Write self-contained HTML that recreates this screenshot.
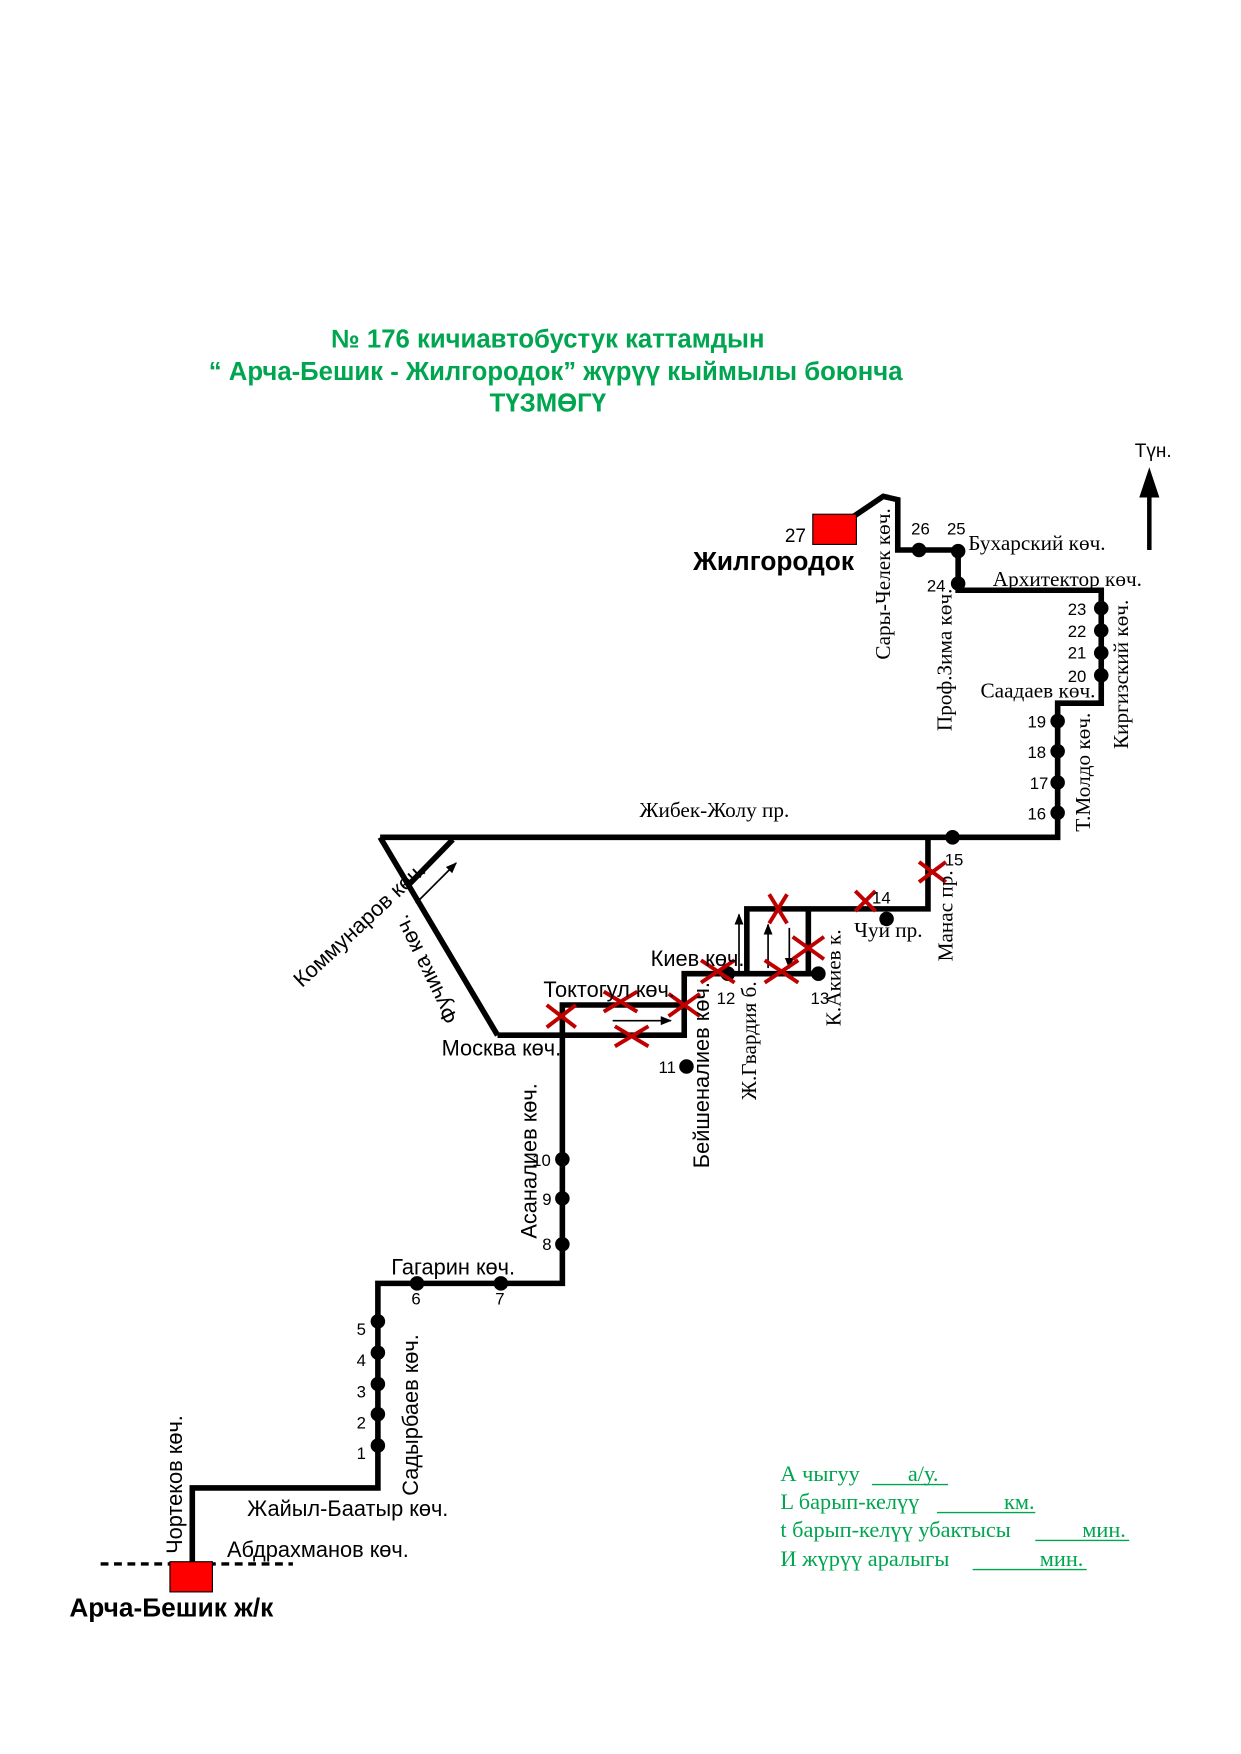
<!DOCTYPE html>
<html><head><meta charset="utf-8"><style>
html,body{margin:0;padding:0;background:#fff;}
svg{display:block;}
.s{font-family:"Liberation Sans",sans-serif;}
.r{font-family:"Liberation Serif",serif;}
</style></head><body>
<svg width="1241" height="1754" viewBox="0 0 1110 1569" preserveAspectRatio="none" xmlns="http://www.w3.org/2000/svg">
<defs>
<marker id="ah" markerWidth="10" markerHeight="10" refX="9" refY="5" orient="auto" markerUnits="userSpaceOnUse"><path d="M0,1 L10,5 L0,9 z" fill="#000"/></marker>
</defs>
<g class="s" font-weight="bold" fill="#00a550" font-size="23" text-anchor="middle">
<text x="490" y="311">№ 176  кичиавтобустук каттамдын</text>
<text x="497" y="340">“ Арча-Бешик - Жилгородок” жүрүү кыймылы боюнча</text>
<text x="490" y="368">ТҮЗМӨГҮ</text>
</g>
<line x1="1028" y1="492" x2="1028" y2="440" stroke="#000" stroke-width="4"/>
<path d="M1019,445 L1028,418 L1037,445 z" fill="#000"/>
<text class="s" x="1015" y="409" font-size="17">Түн.</text>
<line x1="90" y1="1399" x2="262" y2="1399" stroke="#000" stroke-width="3" stroke-dasharray="7,5"/>
<g fill="none" stroke="#000" stroke-width="5" stroke-linejoin="miter">
<polyline points="172,1398 172,1331 338,1331 338,1148 503,1148 503,899 612,899"/>
<polyline points="445,926 612,926 612,871 732,871"/>
<polyline points="668,871 668,813 830,813 830,749"/>
<line x1="723" y1="813" x2="723" y2="871"/>
<polyline points="340,749 946,749 946,629 985,629 985,528 857,528 857,492 803,492 803,447 790,444 762,463"/>
<polyline points="340,749 445,926"/>
<line x1="405" y1="751" x2="365" y2="792"/>
</g>
<g stroke="#000" stroke-width="1.5" fill="none">
<line x1="372" y1="808" x2="408" y2="772" marker-end="url(#ah)"/>
<line x1="548" y1="913" x2="600" y2="913" marker-end="url(#ah)"/>
<line x1="661" y1="870" x2="661" y2="818" marker-end="url(#ah)"/>
<line x1="687" y1="866" x2="687" y2="827" marker-end="url(#ah)"/>
<line x1="706" y1="830" x2="706" y2="866" marker-end="url(#ah)"/>
</g>
<rect x="152" y="1397" width="38" height="27" fill="#ff0000" stroke="#000" stroke-width="1"/>
<rect x="727" y="460" width="39" height="27" fill="#ff0000" stroke="#000" stroke-width="1"/>
<g fill="#000">
<circle cx="338" cy="1293" r="6.5"/><circle cx="338" cy="1265" r="6.5"/><circle cx="338" cy="1238" r="6.5"/><circle cx="338" cy="1210" r="6.5"/><circle cx="338" cy="1182" r="6.5"/>
<circle cx="373" cy="1148" r="6.5"/><circle cx="448" cy="1148" r="6.5"/>
<circle cx="503" cy="1113" r="6.5"/><circle cx="503" cy="1072" r="6.5"/><circle cx="503" cy="1037" r="6.5"/>
<circle cx="614" cy="954" r="6.5"/><circle cx="651" cy="871" r="6.5"/><circle cx="732" cy="871" r="6.5"/>
<circle cx="793" cy="822" r="6.5"/><circle cx="852" cy="749" r="6.5"/>
<circle cx="946" cy="727" r="6.5"/><circle cx="946" cy="700" r="6.5"/><circle cx="946" cy="672" r="6.5"/><circle cx="946" cy="645" r="6.5"/>
<circle cx="985" cy="604" r="6.5"/><circle cx="985" cy="584" r="6.5"/><circle cx="985" cy="564" r="6.5"/><circle cx="985" cy="544" r="6.5"/>
<circle cx="857" cy="522" r="6.5"/><circle cx="857" cy="493" r="6.5"/><circle cx="822" cy="492" r="6.5"/>
</g>
<g stroke="#c00000" stroke-width="3.5">
<path d="M489,899 l26,20 M515,899 l-26,20"/>
<path d="M540,887 l30,18 M570,887 l-30,18"/>
<path d="M550,918 l30,18 M580,918 l-30,18"/>
<path d="M598,889 l28,20 M626,889 l-28,20"/>
<path d="M627,859 l30,20 M657,859 l-30,20"/>
<path d="M684,859 l30,20 M714,859 l-30,20"/>
<path d="M709,838 l28,20 M737,838 l-28,20"/>
<path d="M688,800 l16,26 M704,800 l-16,26"/>
<path d="M765,797 l18,18 M783,797 l-18,18"/>
<path d="M822,771 l24,18 M846,771 l-24,18"/>
</g>
<g class="s" font-size="19.5" fill="#000">
<text x="62" y="1446" font-size="23.5" font-weight="bold">Арча-Бешик ж/к</text>
<text x="620" y="510" font-size="23.5" font-weight="bold">Жилгородок</text>
<text x="702" y="485" font-size="17">27</text>
<text x="203" y="1393">Абдрахманов көч.</text>
<text x="221" y="1356">Жайыл-Баатыр көч.</text>
<text transform="translate(163,1390) rotate(-90)">Чортеков көч.</text>
<text transform="translate(374,1338) rotate(-90)">Садырбаев көч.</text>
<text x="350" y="1140">Гагарин көч.</text>
<text transform="translate(480,1108) rotate(-90)">Асаналиев көч.</text>
<text x="395" y="944">Москва көч.</text>
<text x="486" y="892">Токтогул көч.</text>
<text x="582" y="864">Киев көч.</text>
<text transform="translate(634,1045) rotate(-90)">Бейшеналиев көч.</text>
<text transform="translate(270,884) rotate(-43)">Коммунаров көч.</text>
<text transform="translate(410,912) rotate(-116)">Фучика көч.</text>
<g font-size="15">
<text x="319" y="1305">1</text><text x="319" y="1278">2</text><text x="319" y="1250">3</text><text x="319" y="1222">4</text><text x="319" y="1194">5</text>
<text x="368" y="1167">6</text><text x="443" y="1167">7</text>
<text x="485" y="1118">8</text><text x="485" y="1078">9</text><text x="476" y="1043">10</text>
<text x="589" y="960">11</text><text x="641" y="898">12</text><text x="725" y="898">13</text>
<text x="780" y="808">14</text><text x="845" y="774">15</text>
<text x="919" y="733">16</text><text x="921" y="706">17</text><text x="919" y="678">18</text><text x="919" y="651">19</text>
<text x="955" y="610">20</text><text x="955" y="589">21</text><text x="955" y="570">22</text><text x="955" y="550">23</text>
<text x="829" y="529">24</text><text x="847" y="478">25</text><text x="815" y="478">26</text>
</g>
</g>
<g class="r" font-size="19" fill="#000">
<text x="572" y="731">Жибек-Жолу пр.</text>
<text x="764" y="838">Чуй пр.</text>
<text transform="translate(852,860) rotate(-90)">Манас пр.</text>
<text transform="translate(752,918) rotate(-90)">К.Акиев к.</text>
<text transform="translate(676,984) rotate(-90)">Ж.Гвардия б.</text>
<text x="877" y="624">Саадаев көч.</text>
<text transform="translate(975,744) rotate(-90)">Т.Молдо көч.</text>
<text transform="translate(1009,670) rotate(-90)">Киргизский көч.</text>
<text x="888" y="524">Архитектор көч.</text>
<text x="866" y="492">Бухарский көч.</text>
<text transform="translate(796,590) rotate(-90)">Сары-Челек көч.</text>
<text transform="translate(851,654) rotate(-90)">Проф.Зима көч.</text>
</g>
<g class="r" font-size="20" fill="#00a550">
<text x="698" y="1325">А чыгуу</text><text x="812" y="1325">а/у.</text>
<text x="698" y="1350">L барып-келүү</text><text x="898" y="1350">км.</text>
<text x="698" y="1375">t барып-келүү убактысы</text><text x="968" y="1375">мин.</text>
<text x="698" y="1401">И жүрүү аралыгы</text><text x="930" y="1401">мин.</text>
</g>
<g stroke="#00a550" stroke-width="1.2">
<line x1="780" y1="1328" x2="848" y2="1328"/>
<line x1="838" y1="1353" x2="926" y2="1353"/>
<line x1="926" y1="1378" x2="1010" y2="1378"/>
<line x1="870" y1="1404" x2="972" y2="1404"/>
</g>
</svg>
</body></html>
